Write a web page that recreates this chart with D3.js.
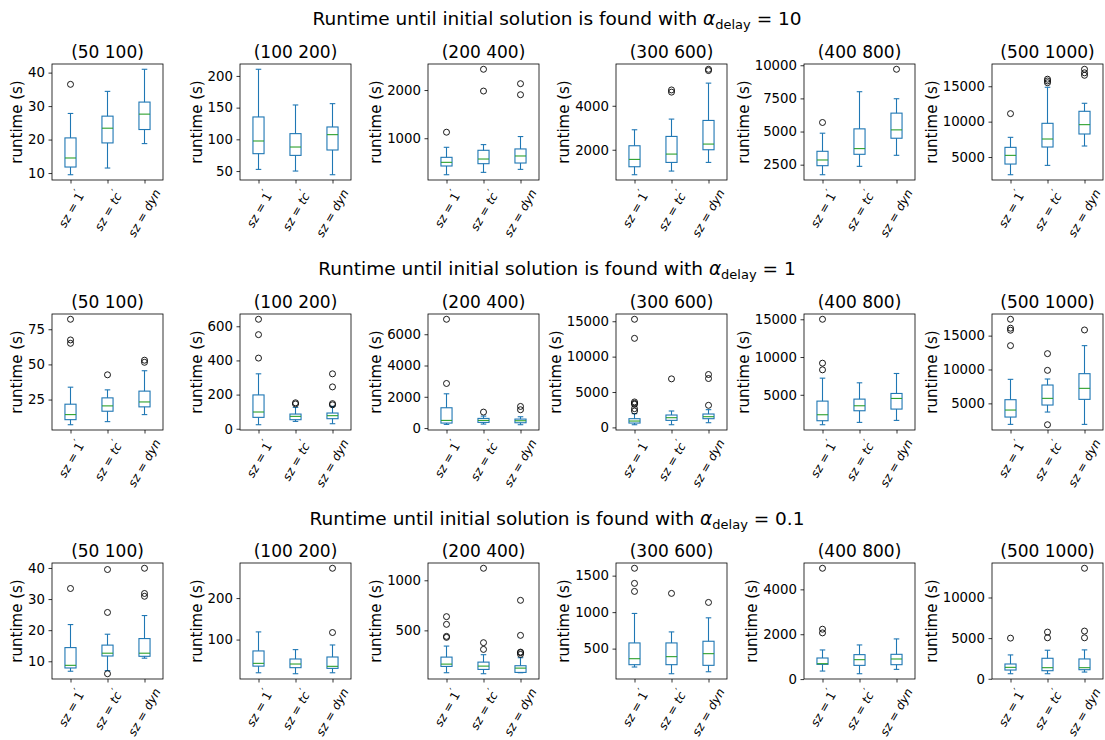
<!DOCTYPE html>
<html>
<head>
<meta charset="utf-8">
<script src="https://cdn.jsdelivr.net/npm/d3@7"></script>
<style>
  body { margin: 0; background: #fff; }
  text { font-family: "DejaVu Sans", sans-serif; fill: #000; }
</style>
</head>
<body>
<svg id="fig" width="1105" height="740"></svg>
<script>
// Row settings (alpha_delay) and panel settings (instance sizes)
const alphaDelays = ["10", "1", "0.1"];
const graphSizes = ["(50 100)", "(100 200)", "(200 400)", "(300 600)", "(400 800)", "(500 1000)"];
const strategies = ["1", "tc", "dyn"];

// Box statistics per panel and strategy:
// [low whisker, Q1, median, Q3, high whisker, [outliers]]
const statsDelay10 = [
  [[9.5, 11.8, 14.5, 20.5, 27.8, [36.5]], [11.5, 19, 23.4, 27, 34.4, []], [18.8, 23, 27.6, 31.2, 41, []]],
  [[52.6, 77.4, 97.4, 135.3, 210.5, []], [50, 74.7, 87.9, 109, 154.2, []], [44.2, 83.2, 107.4, 119.5, 156.3, []]],
  [[243, 424, 500, 604, 812, [1125]], [292, 472, 569, 750, 868, [1979, 2431]], [354, 486, 632, 778, 1035, [1903, 2132]]],
  [[864, 1227, 1561, 2182, 2909, []], [1030, 1424, 1803, 2606, 3394, [4620, 4720]], [1424, 2000, 2258, 3333, 5030, [5600, 5660]]],
  [[1742, 2424, 2854, 3510, 4874, [5682]], [2374, 3283, 3712, 5202, 8005, []], [3207, 4495, 5126, 6389, 7475, [9697]]],
  [[2500, 4009, 5236, 6368, 7783, [11132]], [3821, 6415, 7547, 9764, 14858, [15500, 15750, 16000]], [6557, 8255, 9575, 11462, 12594, [16550, 16900, 17400]]]
];
const statsDelay1 = [
  [[7.1, 10.7, 14.3, 21.7, 33.8, [65, 67.4, 82.1]], [9.3, 16.7, 20.5, 26.2, 31.9, [42.6]], [14.3, 19.8, 23.3, 31, 45.5, [51.5, 53]]],
  [[23.5, 66.7, 98, 198, 321.6, [413.7, 551, 641]], [43, 53, 72.5, 86, 125, [145, 152]], [29.4, 58.8, 76.5, 92, 131, [140, 147, 245, 321.6]]],
  [[234, 319, 489, 1298, 2191, [2851, 6957]], [255, 362, 489, 617, 766, [1021]], [213, 340, 468, 574, 723, [1170, 1383]]],
  [[378, 615, 899, 1230, 1940, [2318, 2649, 3264, 3400, 3595, 12583, 15279]], [378, 993, 1372, 1750, 2318, [6859]], [662, 1230, 1514, 1892, 2507, [3122, 6906, 7474]]],
  [[1035, 1564, 2357, 4163, 7203, [8304, 9185, 15000]], [1344, 2885, 3546, 4427, 6586, []], [1608, 3106, 4515, 5176, 7820, []]],
  [[1897, 2980, 4015, 5542, 8547, [13522, 15800, 16100, 17414]], [3719, 4754, 5739, 7709, 8596, [1847, 9877, 12340]], [1897, 5591, 7217, 9384, 13522, [15837]]]
];
const statsDelay01 = [
  [[6.8, 7.85, 8.7, 14.4, 21.8, [33.4]], [7.0, 11.7, 12.6, 15.2, 18.7, [6.0, 25.7, 39.5]], [11.0, 11.6, 12.6, 17.3, 24.7, [30.9, 31.8, 39.9]]],
  [[20, 36, 42.7, 72.6, 118.5, []], [17.7, 32.3, 41.1, 53.2, 75.8, []], [20, 30.6, 35.5, 58, 87, [117, 271.8]]],
  [[77, 140, 163, 233, 343, [430, 440, 560, 637]], [67, 110, 143, 183, 257, [310, 377, 1120]], [77, 80, 123, 147, 227, [260, 277, 283, 450, 800]]],
  [[248, 280, 362, 578, 982, [1284, 1394, 1601]], [156, 280, 390, 578, 729, [1257]], [183, 271, 431, 601, 922, [1133]]],
  [[358, 657, 687, 940, 1299, [2060, 2224, 4940]], [239, 612, 866, 1090, 1522, []], [433, 642, 896, 1104, 1791, []]],
  [[620, 1074, 1405, 1818, 2934, [5000]], [620, 992, 1364, 2521, 3512, [5041, 5744]], [826, 1116, 1364, 2438, 3554, [5041, 5868, 13595]]]
];

// Y tick values per panel
const ticksDelay10 = [[10, 20, 30, 40], [50, 100, 150, 200], [1000, 2000], [2000, 4000], [2500, 5000, 7500, 10000], [5000, 10000, 15000]];
const ticksDelay1 = [[25, 50, 75], [0, 200, 400, 600], [0, 2000, 4000, 6000], [0, 5000, 10000, 15000], [5000, 10000, 15000], [5000, 10000, 15000]];
const ticksDelay01 = [[10, 20, 30, 40], [100, 200], [500, 1000], [500, 1000, 1500], [0, 2000, 4000], [0, 5000, 10000]];

const rows = [
  { alpha: alphaDelays[0], stats: statsDelay10, ticks: ticksDelay10 },
  { alpha: alphaDelays[1], stats: statsDelay1, ticks: ticksDelay1 },
  { alpha: alphaDelays[2], stats: statsDelay01, ticks: ticksDelay01 }
];

const BLUE = "#1f77b4", GREEN = "#2ca02c";
const svg = d3.select("#fig");

const panelLeft0 = 52, panelStep = 188, panelW = 111, panelH = 116;
const rowTops = [64, 314, 563];
const supBaselines = [25, 275, 525];
const TICK = 3.5, PAD = 3.5;

rows.forEach((row, r) => {
  // Row title with alpha_delay
  const sup = svg.append("text")
    .attr("x", 557).attr("y", supBaselines[r])
    .attr("text-anchor", "middle")
    .style("font-size", "18.5px");
  sup.append("tspan").text("Runtime until initial solution is found with ");
  sup.append("tspan").style("font-style", "italic").text("α");
  sup.append("tspan").attr("dy", 4).style("font-size", "13px").text("delay");
  sup.append("tspan").attr("dy", -4).text(" = " + row.alpha);

  row.stats.forEach((boxes, c) => {
    const x0 = panelLeft0 + c * panelStep, y0 = rowTops[r];
    const g = svg.append("g").attr("transform", `translate(${x0},${y0})`);

    // data extent with 5% margins
    const all = boxes.flatMap(b => [b[0], b[4], ...b[5]]);
    const lo = d3.min(all), hi = d3.max(all), pad = (hi - lo) * 0.05;

    const x = d3.scaleLinear().domain([0.5, 3.5]).range([0, panelW]);
    const y = d3.scaleLinear().domain([lo - pad, hi + pad]).range([panelH, 0]);

    const bw = x(1.15) - x(1), cw = x(1.075) - x(1);

    boxes.forEach((b, i) => {
      const cx = x(i + 1);
      const [wl, q1, med, q3, wh, outs] = b;
      const bg = g.append("g");
      bg.append("rect")
        .attr("x", cx - bw).attr("y", y(q3))
        .attr("width", 2 * bw).attr("height", y(q1) - y(q3))
        .attr("fill", "none").attr("stroke", BLUE).attr("stroke-width", 1.1);
      // whiskers
      bg.append("line").attr("x1", cx).attr("x2", cx).attr("y1", y(q1)).attr("y2", y(wl))
        .attr("stroke", BLUE).attr("stroke-width", 1.1);
      bg.append("line").attr("x1", cx).attr("x2", cx).attr("y1", y(q3)).attr("y2", y(wh))
        .attr("stroke", BLUE).attr("stroke-width", 1.1);
      // caps
      [wl, wh].forEach(v => {
        bg.append("line").attr("x1", cx - cw).attr("x2", cx + cw).attr("y1", y(v)).attr("y2", y(v))
          .attr("stroke", BLUE).attr("stroke-width", 1.1);
      });
      // median
      bg.append("line").attr("x1", cx - bw).attr("x2", cx + bw).attr("y1", y(med)).attr("y2", y(med))
        .attr("stroke", GREEN).attr("stroke-width", 1.1);
      // outliers
      bg.selectAll("circle.out").data(outs).join("circle")
        .attr("class", "out")
        .attr("cx", cx).attr("cy", d => y(d)).attr("r", 3)
        .attr("fill", "none").attr("stroke", "#000").attr("stroke-width", 0.9);
    });

    // axes frame
    g.append("rect").attr("width", panelW).attr("height", panelH)
      .attr("fill", "none").attr("stroke", "#000").attr("stroke-width", 0.8);

    // y axis
    const ya = g.append("g").call(d3.axisLeft(y).tickValues(row.ticks[c]).tickSize(TICK).tickPadding(PAD).tickFormat(d3.format("d")));
    ya.select(".domain").remove();
    ya.selectAll(".tick line").attr("stroke", "#000").attr("stroke-width", 0.8);
    ya.selectAll(".tick text").style("font-size", "13.3px").style("font-family", "DejaVu Sans").attr("fill", "#000");
    let maxW = 0;
    ya.selectAll(".tick text").each(function () { maxW = Math.max(maxW, this.getBBox().width); });

    // x axis with rotated math labels, centred under each tick
    const xa = g.append("g").attr("transform", `translate(0,${panelH})`)
      .call(d3.axisBottom(x).tickValues([1, 2, 3]).tickSize(TICK).tickFormat(""));
    xa.select(".domain").remove();
    xa.selectAll(".tick line").attr("stroke", "#000").attr("stroke-width", 0.8);
    strategies.forEach((s, i) => {
      const lg = g.append("g");
      const t = lg.append("text")
        .attr("transform", "rotate(-60)")
        .attr("text-anchor", "end")
        .style("font-size", "12px");
      t.append("tspan").style("font-style", "italic").text("sz");
      t.append("tspan").text(" = ");
      if (s === "1") {
        t.append("tspan").text("1");
      } else {
        t.append("tspan").style("font-style", "italic").text(s);
      }
      if (s !== "dyn") {
        t.append("tspan").attr("dy", -5).attr("dx", -1).style("font-size", "10px").text("′");
      }
      const bb = lg.node().getBBox();
      lg.attr("transform", `translate(${x(i + 1) - (bb.x + bb.width / 2)},${panelH + TICK + PAD - bb.y})`);
    });

    // y label, placed left of the widest tick label
    g.append("text")
      .attr("transform", `translate(${-(TICK + PAD + maxW + 6)},${panelH / 2}) rotate(-90)`)
      .attr("text-anchor", "middle")
      .style("font-size", "15px")
      .text("runtime (s)");

    // panel title
    g.append("text")
      .attr("x", panelW / 2).attr("y", -6)
      .attr("text-anchor", "middle")
      .style("font-size", "17px")
      .text(graphSizes[c]);
  });
});
</script>
</body>
</html>
